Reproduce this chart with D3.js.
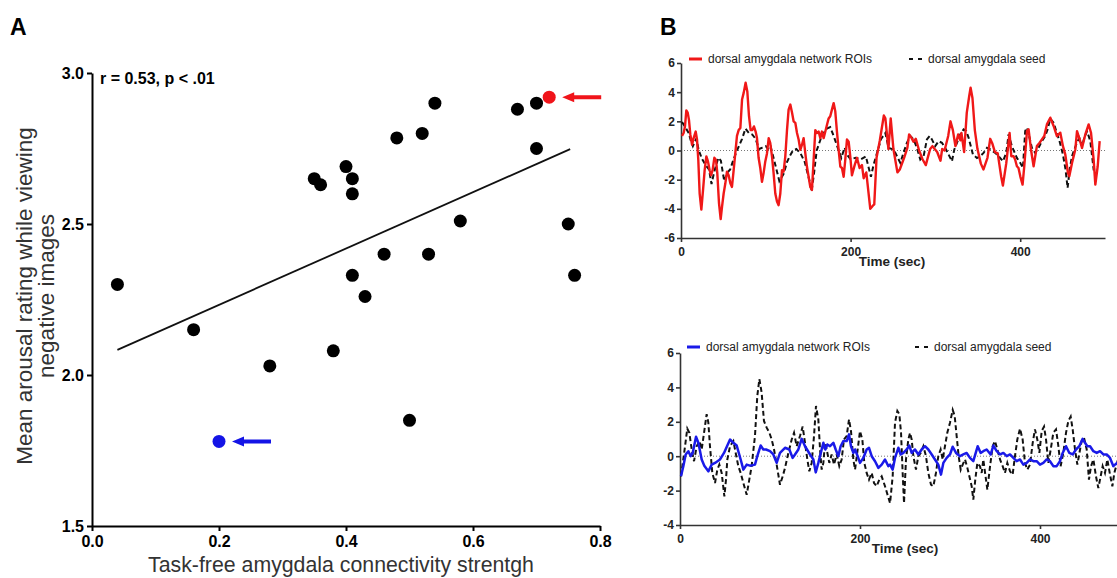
<!DOCTYPE html>
<html lang="en">
<head>
<meta charset="UTF-8">
<title>Amygdala connectivity and arousal</title>
<script src="https://d3js.org/d3.v7.min.js"></script>
<style>
  body { margin: 0; background: #fff; }
  svg { display: block; font-family: "Liberation Sans", Arial, sans-serif; }
  .narrow { font-family: "Liberation Sans Narrow", "Arial Narrow", "Liberation Sans", sans-serif; font-weight: bold; }
  .panel { font-weight: bold; font-size: 23px; }
  .axA path, .axA line { stroke: #000; stroke-width: 2; }
  .axA text { font-family: "Liberation Sans Narrow", "Arial Narrow", sans-serif; font-weight: bold; font-size: 16px; fill: #000; }
  .axB path, .axB line { stroke: #333; stroke-width: 1.6; }
  .axB text { font-weight: bold; font-size: 12px; fill: #222; }
  .title { fill: #333; }
  .leg { font-size: 12px; fill: #222; }
</style>
</head>
<body>
<svg id="fig" width="1117" height="578"></svg>
<script>
// ---- panel A: scatter
var connX = [0.04, 0.16, 0.28, 0.35, 0.36, 0.38, 0.40, 0.41, 0.41, 0.41, 0.43, 0.46, 0.48, 0.50, 0.52, 0.53, 0.54, 0.58, 0.67, 0.70, 0.70, 0.75, 0.76];
var arousalY = [2.30, 2.15, 2.03, 2.65, 2.63, 2.08, 2.69, 2.65, 2.60, 2.33, 2.26, 2.40, 2.785, 1.85, 2.80, 2.40, 2.90, 2.51, 2.88, 2.90, 2.75, 2.50, 2.33];
var redPoint = [0.72, 2.92];
var bluePoint = [0.20, 1.78];
var fitX = [0.04, 0.753];
var fitY = [2.083, 2.748];
var xTicksA = [0.0, 0.2, 0.4, 0.6, 0.8];
var yTicksA = [1.5, 2.0, 2.5, 3.0];

// ---- panel B: time series [time (sec), signal]
var topRoi = [[1.2,1.0],[3.1,1.2],[4.7,1.65],[6.3,2.75],[7.9,2.6],[9.4,2.1],[11,1.1],[13,0.4],[14.9,0.85],[17.3,1.3],[18.9,0.75],[20.4,-0.65],[22,-2.95],[24,-4.05],[26,-2.7],[27.9,-1.35],[29.9,-0.4],[31.8,-0.75],[33.8,-1.35],[35.4,-1.7],[37.3,-1.35],[39.3,-0.5],[41.3,-0.65],[42.8,-1.55],[44.8,-3.6],[46.8,-4.7],[48.4,-3.85],[50.3,-2.95],[52.3,-2.25],[54.2,-1.45],[56.2,-1.7],[58.2,-2.25],[60.1,-2.5],[62.1,-1.35],[64,-0.2],[66,1.0],[68,1.4],[70,1.55],[72,3.5],[73.9,3.95],[76.2,4.65],[78.2,4.05],[80.2,2.35],[82.1,1.4],[84.1,1.4],[86,1.65],[88,1.3],[89.6,0.85],[91.5,-0.5],[93.5,-1.2],[95.5,-2.15],[97.4,-1.55],[99.4,-0.75],[101.4,-0.2],[103.4,0.85],[105.3,0.5],[107.3,-0.4],[109.2,-1.55],[111.2,-2.95],[113.2,-3.5],[115.1,-3.75],[117.1,-2.95],[119.1,-1.35],[121,-1.45],[123,-0.4],[125,1.4],[126.9,2.8],[128.9,3.15],[130.9,2.6],[132.8,2.0],[134.8,1.9],[136.8,1.2],[138.7,0.75],[140.7,0.05],[142.7,0.4],[144.6,0.85],[146.6,-0.2],[148.5,-1.1],[150.5,-1.8],[152.5,-2.5],[154.4,-2.7],[156.4,-0.65],[158.4,1.4],[160.3,1.2],[162.3,1.3],[164.3,0.85],[166.2,1.3],[168.2,0.85],[170.2,1.3],[172.1,1.75],[174.1,2.2],[176,2.35],[178,2.8],[180,3.25],[181.9,2.7],[183.9,1.3],[185.9,0.05],[187.9,-1.1],[189.8,-1.2],[191.8,-1.8],[193.7,-0.65],[195.7,0.75],[197.7,0.6],[199.6,-0.4],[201.6,-1.7],[204.8,-1.0],[207.5,-0.5],[210.6,-1.2],[213.4,-1.0],[215.4,-1.9],[218.5,-1.5],[223.2,-4.0],[226,-3.8],[227.9,-3.7],[230.6,-0.5],[234.5,0.7],[239.2,2.4],[241,2.2],[244.6,0.1],[247.3,2.2],[250.5,0.1],[255.2,-1.5],[258,-1.3],[263.1,-0.5],[267,0.2],[269,1.1],[271.5,0.9],[274.1,0.6],[276.9,0.8],[280.8,0.0],[284.8,-0.6],[288.7,-1.0],[291.4,-0.4],[293.8,0.1],[296.5,0.3],[299.2,0.1],[302.1,-0.1],[306,-0.7],[308,0.1],[310.8,0.0],[315.1,1.0],[317.8,2.0],[320.6,1.4],[323.6,0.3],[326.8,1.1],[329.5,0.7],[330.7,1.2],[333.9,-0.1],[337,2.6],[339.8,3.7],[341.5,4.3],[343.7,3.6],[346.5,1.4],[349.6,0.1],[353.6,-0.9],[356.7,-1.3],[361.4,-0.5],[364.6,0.8],[367,0.5],[370.1,-0.1],[373.5,-0.2],[377.6,-1.8],[379.6,-2.4],[383.5,-0.9],[387.5,1.2],[389.5,-0.39],[392.2,-0.39],[394,-0.62],[396.1,-1.08],[398,-1.2],[400.1,-1.77],[402.8,-2.34],[404.8,-1.08],[408,1.33],[409.9,1.45],[412.7,0.07],[415.8,-1.08],[419.7,0.3],[422.9,0.53],[425.6,0.76],[428.4,0.99],[431.5,1.79],[435.5,2.25],[439.4,1.68],[443.3,0.99],[447.3,1.22],[450.4,0.3],[453.2,-0.28],[456.3,-1.54],[457.9,-1.77],[461.1,-0.85],[465,0.07],[467,1.33],[470.1,0.76],[472.9,0.18],[476.8,1.1],[480.7,1.79],[483.5,1.22],[486.6,-0.62],[488.6,-2.34],[491.4,-1.08],[493.7,0.64]];
var topSeed = [[1.2,1.95],[5,1.6],[9,1.2],[12,0.6],[14,0.3],[18,0.8],[21,0.0],[25,-0.6],[29,-1.0],[33,-1.3],[36,-2.3],[39,-1.5],[44,-0.5],[47,-0.7],[51,-2.1],[55,-1.5],[58,-1.3],[62,-0.6],[66,0.0],[72,0.8],[76,1.5],[80,1.2],[84,1.1],[88,0.8],[92,0.1],[96,0.2],[100,0.3],[104,0.0],[106,0.2],[110,-0.7],[116,-2.1],[121,-1.6],[125,-0.8],[129,-0.3],[132,0.0],[136,0.1],[141,-0.2],[146,-0.8],[152,-2.2],[154,-2.8],[157,-1.5],[160,0.0],[166,1.0],[172,1.5],[176,1.6],[180,1.0],[186,0.0],[189,-0.5],[193,0.2],[196,-0.3],[200,-0.6],[206,-0.5],[212,-0.6],[218,-0.4],[224,-1.8],[227,-1.0],[232,0.0],[236,0.8],[241,1.2],[244.8,0.18],[250.7,0.07],[254.7,-0.39],[258.6,-0.85],[261.7,-0.28],[266.4,0.53],[270.4,0.99],[274.3,0.76],[278.2,0.18],[282.2,-0.62],[286.1,-0.39],[290,0.76],[293.2,0.99],[295.9,0.76],[299.8,0.3],[303.8,0.64],[307.7,0.53],[311.6,0.18],[315.6,-0.28],[319.5,-0.74],[322.3,0.07],[326.2,0.64],[329.3,1.1],[333.3,1.45],[336.4,1.33],[339.2,0.87],[344.3,-0.28],[349,-0.51],[352.9,-0.39],[356.8,-0.16],[360.8,0.18],[364.7,0.07],[370.6,-0.16],[374.6,-0.39],[379.7,-0.74],[383.6,-0.16],[386.3,1.1],[390.2,0.3],[396.1,-0.51],[400.1,-0.85],[403.2,-1.2],[405.9,1.33],[407.9,1.56],[411,0.87],[413.8,0.18],[417.7,-0.16],[421.6,0.18],[425.6,0.64],[429.5,0.99],[432.3,1.45],[435.5,2.18],[439.4,1.91],[442.5,1.33],[446.4,0.64],[450.4,-0.28],[453.5,-1.31],[455.9,-2.57],[458.3,-1.31],[461.1,-0.39],[463.8,0.07],[466.9,0.53],[469.7,0.87],[472.9,0.3],[475.6,0.87],[478.8,1.33],[482.7,0.64],[486.6,-1.31],[488.6,-1.31]];
var botRoi = [[1.1,-1.17],[3.7,-0.58],[6.3,0.1],[9.3,0.29],[11.9,0],[14.1,0.19],[17.8,1.13],[20.4,0.78],[24.1,-0.19],[27,-0.55],[31.5,-0.88],[35.2,-0.49],[38.9,-0.39],[44.4,-0.19],[48.9,0.19],[52.6,0.62],[55.6,0.97],[59.3,0.78],[63,0.62],[67.4,-0.19],[70.4,-0.78],[74.1,-0.49],[77.8,-0.55],[83.3,-0.49],[85.9,0],[89.6,0.62],[92.6,0.39],[95.6,0.39],[100,0.29],[103.7,0.1],[107.4,-0.39],[111.1,0.19],[116.7,0.49],[121.5,0.39],[125.2,-0.1],[127.8,0.1],[131.5,0.39],[135.2,1.01],[138.9,0.58],[144.5,0.1],[148.2,-0.19],[150.8,-0.94],[153.7,-0.39],[157.4,0.39],[159.3,0.78],[161.5,0.39],[163.7,0.68],[166.7,0.58],[170.4,0.78],[173,0.39],[175.9,0],[178.5,0.58],[181.5,0.88],[185.2,0.88],[187.8,1.27],[190,0.58],[192.6,0.19],[194.5,0.39],[197.4,0],[200,-0.39],[203.7,-0.1],[207.4,0.39],[210,0.49],[213,0],[216.7,-0.29],[220.4,-0.68],[224.1,-0.49],[227.8,-0.19],[231.5,-0.58],[233.4,-0.49],[236.3,-0.78],[238.9,-0.1],[242.6,0.49],[245.2,0.1],[248.2,0.19],[251.9,0.39],[254.8,0.62],[257.4,0.19],[261.1,0.39],[264.8,0.1],[268.5,0.39],[272.2,0.58],[275.9,0.39],[279.7,0.1],[283.3,-0.19],[287,-0.49],[290,-1.07],[292.6,-0.39],[296.3,-0.1],[300,0.1],[303,0.55],[306.7,0.19],[311.1,0],[314.8,0.1],[318.5,0.19],[322.2,-0.1],[325.9,-0.29],[330.8,0.58],[334.1,0.19],[337,0.29],[340.7,0.39],[345.2,0.1],[348.2,0.62],[351.9,0.29],[355.6,0.1],[359.3,0.19],[363,0],[366.7,0.1],[370.4,-0.1],[374.1,-0.29],[377.8,-0.19],[381.5,-0.49],[385.2,-0.39],[388.9,-0.19],[392.6,-0.29],[396.3,-0.29],[400,-0.49],[403.7,-0.39],[407.4,-0.19],[411.1,-0.29],[414.8,-0.58],[418.5,-0.58],[422.2,-0.29],[425.2,0.19],[428.9,0.58],[432.6,0.19],[436.3,0.1],[440,0.39],[443.7,0.58],[447.4,1.01],[450,0.78],[452.6,0.58],[455.6,0.58],[459.3,0.29],[463,0.19],[466.7,0.29],[470.4,0.1],[474.1,0.1],[477.8,-0.1],[481.5,-0.58],[485.6,-0.39],[490,-0.5]];
var botSeed = [[1.1,-1.17],[5.6,0.58],[8.1,1.6],[10.4,1.36],[13,0.39],[15.6,-0.29],[18.5,0.58],[21.5,0.88],[24.1,0.39],[26.7,1.36],[29.6,2.44],[31.5,1.95],[33.3,0.58],[35.9,-0.97],[38.9,-1.56],[41.5,-0.78],[43.7,-0.49],[46.3,-0.97],[49.3,-2.34],[51.1,-1.36],[52.6,-0.19],[55.6,0.58],[59.3,0.88],[62.2,0.1],[64.8,-0.58],[67.4,-0.97],[70.4,-1.56],[74.1,-2.24],[77,-1.36],[79.6,-0.58],[83.3,1.17],[85.9,3.51],[88.2,4.48],[90.7,3.7],[93.3,2.05],[96.3,1.66],[99.3,1.36],[101.9,0.97],[104.5,0.39],[107.4,-0.49],[111.1,-1.66],[114.1,-1.17],[116.7,-0.68],[120.4,0.19],[124.1,0.97],[126.7,1.36],[129.6,0.58],[133.3,1.17],[136.3,1.72],[138.9,0.78],[141.5,-0.19],[143.7,-0.88],[146.3,-0.39],[148.9,1.17],[151.1,2.92],[153.7,2.14],[155.6,0.39],[157.4,-0.78],[159.3,-0.39],[161.1,0.78],[163,0.39],[165.9,-0.39],[168.5,0.1],[171.1,-0.49],[174.1,0.1],[177,-0.58],[179.6,-0.19],[182.2,0.97],[185.2,1.17],[187.8,2.14],[190,1.46],[192.6,-0.19],[194.5,-0.78],[197.4,0.39],[200,1.46],[202.6,0.97],[204.8,-0.39],[207.4,-0.97],[210,-1.36],[213,-0.97],[215.6,-1.56],[218.5,-1.75],[221.5,-1.36],[224.1,-1.17],[227.8,-1.75],[233.4,-2.73],[236.3,-1.17],[238.9,1.95],[241.5,2.63],[243.7,2.44],[245.6,1.36],[247.4,-0.97],[248.9,-2.73],[251.1,-0.19],[253.7,0.97],[255.6,1.36],[257.4,0.97],[259.3,0],[262.2,-0.78],[264.8,0],[267.4,0.19],[270.4,0.58],[273.3,0],[275.9,-0.97],[278.9,-1.66],[281.5,-1.75],[284.4,-0.97],[287,0],[289.6,0.39],[291.9,-0.19],[294.4,0.58],[297,1.36],[300,1.95],[303,2.69],[305.2,2.34],[307.4,1.17],[309.6,0],[311.9,-0.78],[314.1,-0.49],[316.7,-0.19],[319.3,-0.68],[321.5,-1.17],[324.1,-1.75],[325.9,-2.53],[328.1,-1.36],[330.4,-0.39],[333.3,-0.58],[335.2,-0.97],[337,-0.19],[340,-1.36],[341.5,-1.95],[344.5,-0.58],[347.4,0.58],[350,0.88],[352.6,0.39],[355.6,-0.19],[358.5,-0.58],[361.1,-0.97],[363.7,-0.39],[366.7,-0.88],[369.6,-1.07],[372.2,0],[374.8,0.97],[377.8,1.6],[380.7,0.97],[383.3,-0.39],[385.9,-0.78],[388.9,-0.49],[391.9,0.78],[394.4,1.56],[397,0.97],[399.3,0.19],[401.9,1.46],[404.5,1.72],[406.7,0.97],[409.3,-0.39],[411.9,0.39],[414.8,1.36],[417.8,1.56],[420.4,0.58],[422.9,-0.58],[425.9,0.19],[428.9,1.36],[431.5,2.05],[434.1,2.3],[436.3,1.56],[438.9,0.39],[441.5,-0.49],[444.5,0.39],[446.7,0.97],[448.9,1.07],[451.9,0.39],[454.4,-1.36],[456.7,-0.58],[459.3,-0.19],[462.2,-1.17],[464.8,-1.85],[467.4,-1.17],[469.6,-0.58],[472.2,-0.97],[474.8,-0.19],[477.8,-1.07],[480.4,-1.75],[482.6,-0.97],[485.6,-0.39],[490,-1.0]];
var xTicksB = [0, 200, 400];
var yTicksTop = [-6, -4, -2, 0, 2, 4, 6];
var yTicksBot = [-4, -2, 0, 2, 4, 6];

var svg = d3.select("#fig");

// ===== Panel A =====
var xA = d3.scaleLinear().domain([0, 0.8]).range([92, 600]);
var yA = d3.scaleLinear().domain([1.5, 3.0]).range([526, 73]);

svg.append("text").attr("class", "panel").attr("x", 10).attr("y", 35).text("A");

svg.append("g").attr("class", "axA")
  .attr("transform", "translate(0,526)")
  .call(d3.axisBottom(xA).tickValues(xTicksA).tickSize(5).tickSizeOuter(0).tickPadding(5).tickFormat(d3.format(".1f")));
svg.append("g").attr("class", "axA")
  .attr("transform", "translate(92,0)")
  .call(d3.axisLeft(yA).tickValues(yTicksA).tickSize(5).tickSizeOuter(0).tickPadding(3).tickFormat(d3.format(".1f")));

// regression line
svg.append("line")
  .attr("x1", xA(fitX[0])).attr("y1", yA(fitY[0]))
  .attr("x2", xA(fitX[1])).attr("y2", yA(fitY[1]))
  .attr("stroke", "#111").attr("stroke-width", 1.8);

svg.selectAll("circle.pt")
  .data(d3.range(connX.length))
  .enter().append("circle")
  .attr("class", "pt")
  .attr("cx", i => xA(connX[i]))
  .attr("cy", i => yA(arousalY[i]))
  .attr("r", 6.5)
  .attr("fill", "#000");

function marked(pt, color) {
  var cx = xA(pt[0]), cy = yA(pt[1]);
  svg.append("circle").attr("cx", cx).attr("cy", cy).attr("r", 6.5).attr("fill", color);
  var tip = cx + 13;
  svg.append("path")
    .attr("d", "M" + tip + "," + cy + " l12,-5 l0,3 l27,0 l0,4 l-27,0 l0,3 z")
    .attr("fill", color);
}
marked(redPoint, "#f0141a");
marked(bluePoint, "#1414e6");

svg.append("text").attr("class", "narrow")
  .attr("x", 100).attr("y", 84).attr("font-size", 16)
  .text("r = 0.53, p < .01");

svg.append("text").attr("class", "title").attr("font-size", 22.5)
  .attr("transform", "translate(32,296) rotate(-90)")
  .attr("text-anchor", "middle")
  .text("Mean arousal rating while viewing");
svg.append("text").attr("class", "title").attr("font-size", 22.5)
  .attr("transform", "translate(54,296) rotate(-90)")
  .attr("text-anchor", "middle")
  .text("negative images");
svg.append("text").attr("class", "title").attr("font-size", 21.3)
  .attr("x", 341).attr("y", 572).attr("text-anchor", "middle")
  .text("Task-free amygdala connectivity strentgh");

// ===== Panel B =====
svg.append("text").attr("class", "panel").attr("x", 660).attr("y", 35).text("B");

function tsPanel(opt) {
  var x = d3.scaleLinear().domain([0, 500]).range(opt.xr);
  var y = d3.scaleLinear().domain(opt.yd).range(opt.yr);
  var g = svg.append("g");

  g.append("line")
    .attr("x1", x(0)).attr("x2", x(500)).attr("y1", y(0)).attr("y2", y(0))
    .attr("stroke", "#777").attr("stroke-width", 1).attr("stroke-dasharray", "1,2");

  g.append("g").attr("class", "axB")
    .attr("transform", "translate(0," + opt.yr[0] + ")")
    .call(d3.axisBottom(x).tickValues(xTicksB).tickSize(4).tickSizeOuter(0).tickPadding(5));
  g.append("g").attr("class", "axB")
    .attr("transform", "translate(" + opt.xr[0] + ",0)")
    .call(d3.axisLeft(y).tickValues(opt.yticks).tickSize(4).tickSizeOuter(0).tickPadding(2).tickFormat(String));

  var line = d3.line().x(d => x(d[0])).y(d => y(d[1]));
  g.append("path").datum(opt.seed).attr("d", line)
    .attr("fill", "none").attr("stroke", "#111").attr("stroke-width", 2)
    .attr("stroke-dasharray", "5,3");
  g.append("path").datum(opt.roi).attr("d", line)
    .attr("fill", "none").attr("stroke", opt.color).attr("stroke-width", opt.lw)
    .attr("stroke-linejoin", "round");

  // legend
  var ly = opt.legY;
  g.append("line").attr("x1", opt.legX).attr("x2", opt.legX + 13).attr("y1", ly).attr("y2", ly)
    .attr("stroke", opt.color).attr("stroke-width", 3);
  g.append("text").attr("class", "leg").attr("x", opt.legX + 19).attr("y", ly + 4)
    .text("dorsal amygdala network ROIs");
  g.append("line").attr("x1", opt.legX2).attr("x2", opt.legX2 + 13).attr("y1", ly).attr("y2", ly)
    .attr("stroke", "#111").attr("stroke-width", 2).attr("stroke-dasharray", "4,5");
  g.append("text").attr("class", "leg").attr("x", opt.legX2 + 19).attr("y", ly + 4)
    .text("dorsal amygdala seed");

  g.append("text").attr("x", opt.titleX).attr("y", opt.titleY)
    .attr("text-anchor", "middle").attr("font-weight", "bold").attr("font-size", 13.5).attr("fill", "#222")
    .text("Time (sec)");
}

tsPanel({ xr: [681, 1105], yr: [238, 63], yd: [-6, 6], yticks: yTicksTop,
  roi: topRoi, seed: topSeed, color: "#f01818", lw: 2.4,
  legX: 689, legX2: 909, legY: 59, titleX: 892, titleY: 266 });
tsPanel({ xr: [680, 1130], yr: [525, 353], yd: [-4, 6], yticks: yTicksBot,
  roi: botRoi, seed: botSeed, color: "#1a1ae8", lw: 2.5,
  legX: 687, legX2: 915, legY: 347, titleX: 905, titleY: 553 });
</script>
</body>
</html>
